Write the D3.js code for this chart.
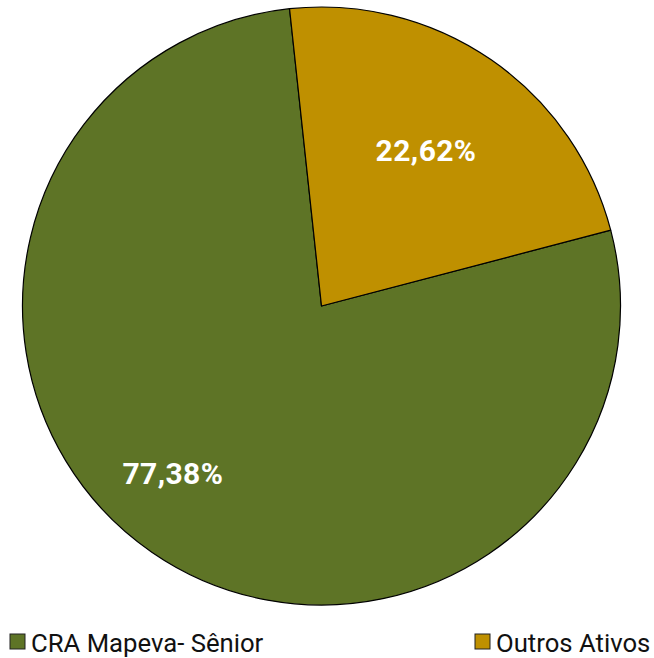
<!DOCTYPE html>
<html>
<head>
<meta charset="utf-8">
<script src="https://cdn.jsdelivr.net/npm/d3@7"></script>
<style>
  html, body { margin: 0; padding: 0; background: #fff; }
  svg { display: block; font-family: Roboto, "Noto Sans", sans-serif; }
</style>
</head>
<body>
<div id="chart"></div>
<script>
const categories = ['CRA Mapeva- Sênior', 'Outros Ativos'];
const values = [77.38, 22.62];
const valueLabels = ['77,38%', '22,62%'];
const colors = ['#5e7426', '#bf9000'];

const width = 654;
const height = 658;
const cx = 321.5;
const cy = 306;
const radius = 299;
const startDeg = 75.3;
// label placement (radius, angle shift in degrees) per slice, like excel's best fit
const labelPlace = [{ r: 224, shift: 7 }, { r: 187, shift: -0.6 }];

const svg = d3.select('#chart')
  .append('svg')
  .attr('width', width)
  .attr('height', height);

const pie = d3.pie()
  .sort(null)
  .value((d) => d)
  .startAngle(startDeg * Math.PI / 180)
  .endAngle(startDeg * Math.PI / 180 + 2 * Math.PI);

const arcs = pie(values);

const arc = d3.arc().innerRadius(0).outerRadius(radius);

const g = svg.append('g')
  .attr('transform', `translate(${cx},${cy})`);

g.selectAll('path')
  .data(arcs)
  .enter()
    .append('path')
    .attr('d', arc)
    .attr('fill', (d, i) => colors[i])
    .attr('stroke', '#000')
    .attr('stroke-width', 1.2)
    .attr('stroke-linejoin', 'round');

g.selectAll('text')
  .data(arcs)
  .enter()
    .append('text')
    .attr('transform', (d, i) => {
      const a = (d.startAngle + d.endAngle) / 2 + labelPlace[i].shift * Math.PI / 180;
      const r = labelPlace[i].r;
      return `translate(${r * Math.sin(a)},${-r * Math.cos(a)})`;
    })
    .attr('text-anchor', 'middle')
    .attr('dy', '0.35em')
    .attr('fill', '#fff')
    .attr('font-weight', 'bold')
    .attr('font-size', 30)
    .attr('letter-spacing', 0.4)
    .text((d, i) => valueLabels[i]);

// Legend
const legendX = [10, 475];
const legend = svg.append('g')
  .selectAll('g')
  .data(categories)
  .enter()
    .append('g')
    .attr('transform', (d, i) => `translate(${legendX[i]}, 634)`);

legend.append('rect')
  .attr('width', 15)
  .attr('height', 15)
  .attr('fill', (d, i) => colors[i])
  .attr('stroke', '#222')
  .attr('stroke-width', 1);

legend.append('text')
  .attr('x', 21)
  .attr('y', 17.5)
  .attr('font-size', 25.7)
  .attr('fill', '#111')
  .text((d) => d);
</script>
</body>
</html>
